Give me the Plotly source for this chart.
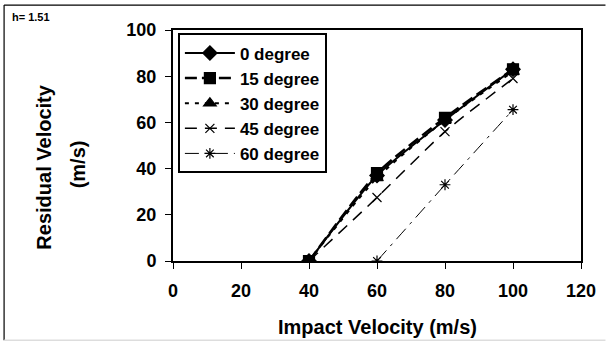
import plotly.graph_objects as go

impact_x = [40, 60, 80, 100]
deg0 = [0, 37, 61, 83]
deg15 = [0, 38, 62, 83]
deg30 = [0, 36, 61, 82]
deg45 = [0, 27.5, 56, 79]
impact_x60 = [60, 80, 100]
deg60 = [0, 33, 65.5]

names = ["0 degree", "15 degree", "30 degree", "45 degree", "60 degree"]
FONT = "Liberation Sans, Arial, sans-serif"

fig = go.Figure()
specs = [
    (impact_x, deg0, "diamond", 11, 2, "solid"),
    (impact_x, deg15, "square", 11, 2.5, "12px,5px"),
    (impact_x, deg30, "triangle-up", 11, 2, "4px,6px"),
    (impact_x, deg45, "x-thin", 9, 1.5, "12px,8px"),
    (impact_x60, deg60, "asterisk", 9, 1, "14px,6px,3px,6px"),
]
for i, (xs, ys, sym, ms, lw, dash) in enumerate(specs):
    fig.add_trace(go.Scatter(
        x=xs, y=ys, name=names[i], mode="lines+markers",
        legendgroup=names[i],
        line=dict(color="black", width=lw, dash=dash, shape="spline", smoothing=0.6),
        marker=dict(symbol=sym, size=ms, color="black",
                    line=dict(color="black", width=1.2)),
    ))

fig.update_layout(
    width=608, height=346,
    margin=dict(l=173, r=22, t=30, b=85),
    paper_bgcolor="white", plot_bgcolor="white",
    font=dict(family=FONT, color="black", size=15),
    showlegend=True,
    legend=dict(
        x=0.012, y=0.985, xanchor="left", yanchor="top",
        bordercolor="black", borderwidth=2, bgcolor="white",
        font=dict(family=FONT, size=17, color="black", weight="bold"),
        traceorder="grouped", tracegroupgap=0,
        itemwidth=50,
    ),
    xaxis=dict(
        range=[0, 120], dtick=20, tick0=0,
        showgrid=False, zeroline=False,
        showline=True, linecolor="black", linewidth=2, mirror=True,
        ticks="outside", ticklen=6, tickcolor="black", tickwidth=1,
        ticklabelstandoff=6,
        tickfont=dict(family=FONT, size=18, color="black", weight="bold"),
    ),
    yaxis=dict(
        range=[0, 100], dtick=20, tick0=0,
        showgrid=False, zeroline=False,
        showline=True, linecolor="black", linewidth=2, mirror=True,
        ticks="outside", ticklen=6, tickcolor="black", tickwidth=1,
        ticklabelstandoff=5,
        tickfont=dict(family=FONT, size=18, color="black", weight="bold"),
    ),
    annotations=[
        dict(text="Impact Velocity (m/s)", xref="paper", yref="paper",
             x=0.5, y=-0.286, xanchor="center", yanchor="middle", showarrow=False,
             font=dict(family=FONT, size=20, weight="bold", color="black")),
        dict(text="Residual Velocity", xref="paper", yref="paper",
             x=-0.317, y=0.407, xanchor="center", yanchor="middle", showarrow=False,
             textangle=-90,
             font=dict(family=FONT, size=20, weight="bold", color="black")),
        dict(text="(m/s)", xref="paper", yref="paper",
             x=-0.232, y=0.42, xanchor="center", yanchor="middle", showarrow=False,
             textangle=-90,
             font=dict(family=FONT, size=20, weight="bold", color="black")),
        dict(text="h= 1.51", xref="paper", yref="paper",
             x=-0.3995, y=1.056, xanchor="left", yanchor="middle", showarrow=False,
             font=dict(family=FONT, size=11, weight="bold", color="black")),
    ],
    shapes=[
        dict(type="line", xref="paper", yref="paper", x0=-0.414, x1=-0.414,
             y0=-0.343, y1=1.108, line=dict(color="black", width=1.2)),
        dict(type="line", xref="paper", yref="paper", x0=-0.414, x1=1.06,
             y0=1.108, y1=1.108, line=dict(color="black", width=1.2)),
        dict(type="line", xref="paper", yref="paper", x0=-0.414, x1=1.06,
             y0=-0.343, y1=-0.343, line=dict(color="#dddddd", width=1.5)),
    ],
)

fig.write_html("out.html")
